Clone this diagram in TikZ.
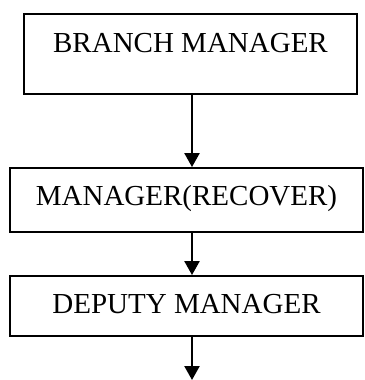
\documentclass[tikz,border=0pt]{standalone}
\usepackage{fontspec}
\setmainfont{Liberation Serif}
\usetikzlibrary{arrows.meta}
\tikzset{
  post/.style={draw,line width=1.9pt,inner sep=0pt,anchor=base,
    font=\fontsize{29}{34}\selectfont},
  flow/.style={line width=2.4pt,-{Triangle[width=15pt,length=14pt]}}
}
\begin{document}
\begin{tikzpicture}[x=1pt,y=-1pt]
  \useasboundingbox (0,0) rectangle (364,380);
  \node[post,minimum width=333pt,text height=38pt,text depth=42pt]
    (bm) at (190.5,52) {BRANCH MANAGER\hspace{14pt}};
  \node[post,minimum width=353pt,text height=37pt,text depth=27pt]
    (mr) at (186.5,205) {MANAGER(RECOVER)};
  \node[post,minimum width=353pt,text height=37pt,text depth=23pt]
    (dm) at (186.5,313) {DEPUTY MANAGER};
  \coordinate (end) at (192,380);

  \draw[flow] (bm.south -| end) -- (mr.north -| end);
  \draw[flow] (mr.south -| end) -- (dm.north -| end);
  \draw[flow] (dm.south -| end) -- (end);
\end{tikzpicture}
\end{document}
